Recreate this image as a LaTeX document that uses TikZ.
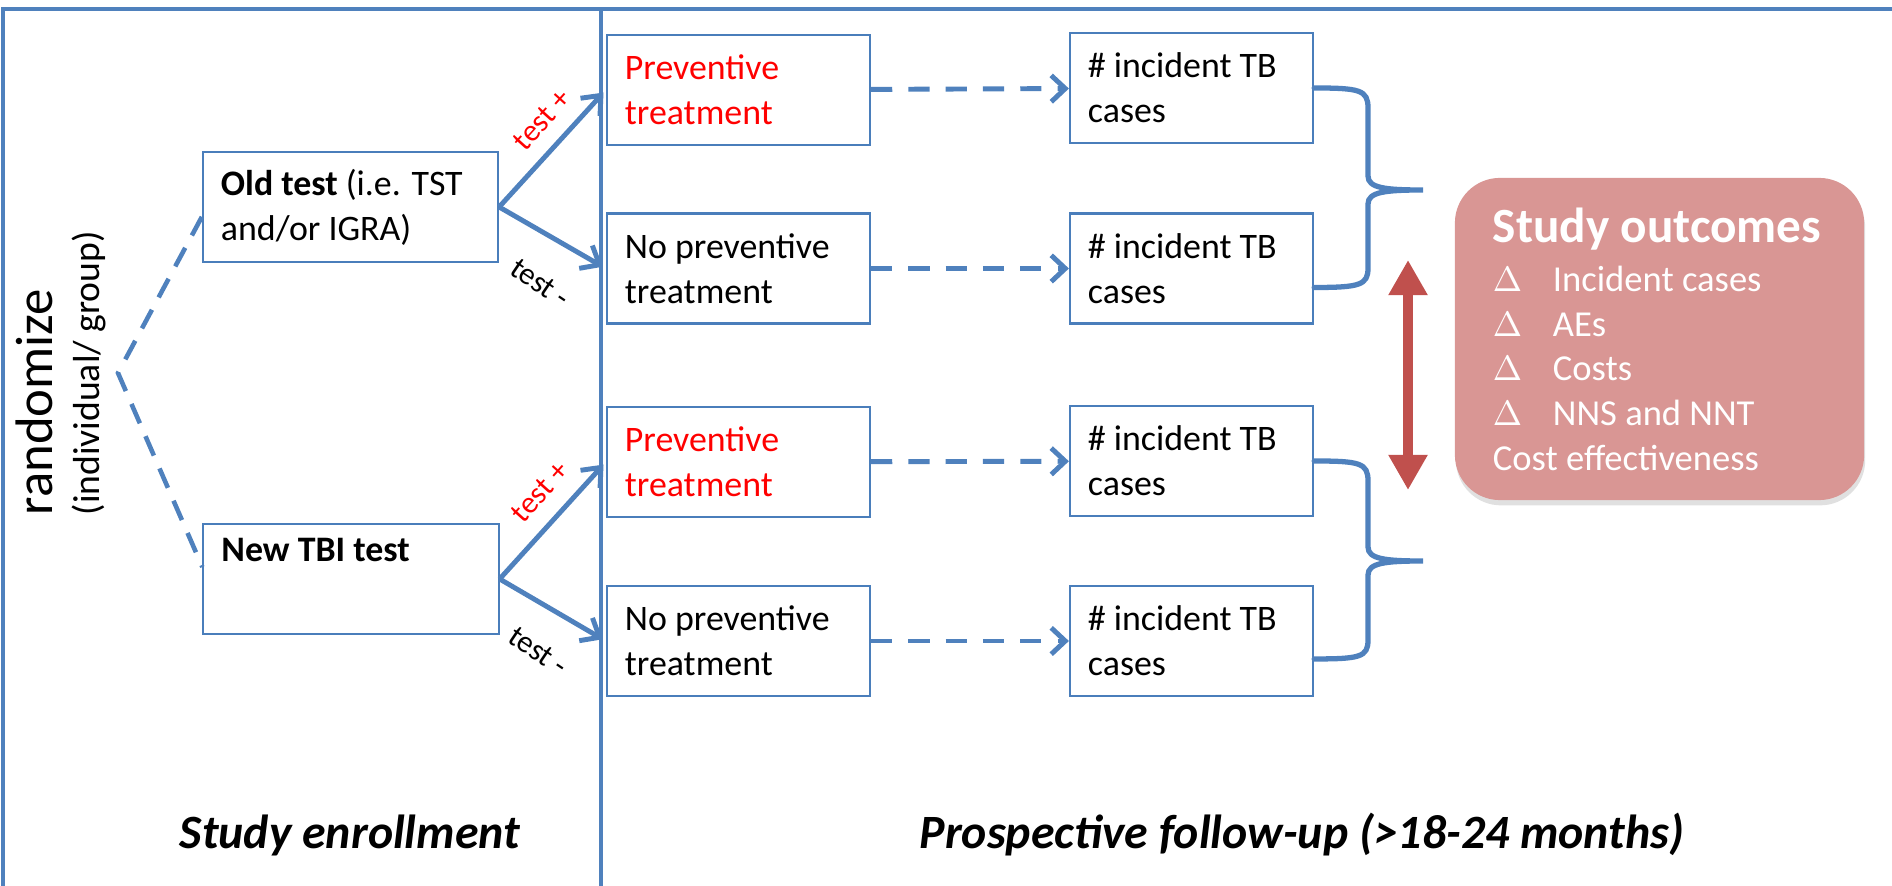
\documentclass[tikz,border=0pt]{standalone}
\usepackage{fontspec}
\setmainfont{Carlito}
\usetikzlibrary{arrows.meta,shadows}

\definecolor{lineblue}{HTML}{4F81BD}
\definecolor{boxblue}{HTML}{4A7EBB}
\definecolor{outred}{HTML}{C0504D}
\definecolor{outfill}{HTML}{D99694}

\newcommand{\dl}{\makebox[0.6cm][l]{$\Delta$}}

\tikzset{
  stagebox/.style={draw=boxblue, line width=0.6pt, fill=white, inner xsep=0.18cm, inner ysep=0pt,
    align=flush left, minimum height=1.1cm, font=\fontsize{10.2}{12.8}\selectfont},
  testbox/.style={stagebox, text width=2.59cm},
  treatbox/.style={stagebox, text width=2.27cm},
  casebox/.style={stagebox, text width=2.07cm},
  outbox/.style={fill=outfill, text=white, rounded corners=0.45cm, inner xsep=0.38cm, inner ysep=0pt,
    text width=3.33cm, minimum height=3.22cm, align=flush left, font=\fontsize{10.4}{12.7}\selectfont,
    drop shadow={shadow xshift=0.3pt, shadow yshift=-1.5pt, opacity=0.2, fill=black!60}},
  testarrow/.style={draw=lineblue, line width=1.4pt, shorten >=1pt, -{Straight Barb[length=4.5pt,width=7.5pt]}},
  followarrow/.style={draw=lineblue, line width=1.4pt, dash pattern=on 6pt off 4.6pt, -{Straight Barb[length=4pt,width=7.5pt]}},
  randline/.style={draw=lineblue, line width=1.3pt, dash pattern=on 6pt off 4pt},
  outbrace/.style={draw=lineblue, line width=1.5pt, line cap=round},
  gaparrow/.style={draw=outred, line width=3.1pt, {Triangle[length=10pt,width=10.5pt]}-{Triangle[length=10pt,width=10.5pt]}},
  testlbl/.style={font=\fontsize{8.8}{10}\selectfont, inner sep=0pt},
  phaselbl/.style={font=\fontsize{13.6}{16}\selectfont\bfseries\itshape}
}

\begin{document}
\begin{tikzpicture}[x=0.01cm, y=-0.01cm]
    \useasboundingbox (0,0) rectangle (1892,886);
    \clip (0,0) rectangle (1892,886);

    % Frame and phase divider
    \draw[lineblue, line width=0.9pt] (3,9) rectangle (1900,900);
    \draw[lineblue, line width=1pt] (601,9) -- (601,900);

    % Randomization
    \node[rotate=90, anchor=base west, inner sep=0pt, font=\fontsize{15}{17}\selectfont] (rand) at (52,516) {randomize};
    \node[rotate=90, anchor=base west, inner sep=0pt, font=\fontsize{10.7}{12}\selectfont] (randsub) at (99,516) {(individual/ group)};
    \coordinate (apex) at (118,373);

    % Test arms
    \node[testbox] (old) at (350.5,207) {\textbf{Old test} (i.e. TST\\ and/or IGRA)};
    \node[testbox] (new) at (351,579) {\textbf{New TBI test}\\ \strut};

    % Treatment decisions
    \node[treatbox, text=red] (prev1) at (738.5,90) {Preventive\\ treatment};
    \node[treatbox] (noprev1) at (738.5,268.5) {No preventive\\ treatment};
    \node[treatbox, text=red] (prev2) at (738.5,462) {Preventive\\ treatment};
    \node[treatbox] (noprev2) at (738.5,641) {No preventive\\ treatment};

    % Incident cases
    \node[casebox] (inc1) at (1191.5,88) {\# incident TB\\ cases};
    \node[casebox] (inc2) at (1191.5,268.5) {\# incident TB\\ cases};
    \node[casebox] (inc3) at (1191.5,461) {\# incident TB\\ cases};
    \node[casebox] (inc4) at (1191.5,641) {\# incident TB\\ cases};

    % Study outcomes
    \node[outbox] (outcomes) at (1659.5,339) {{\fontsize{14}{17}\selectfont\textbf{Study outcomes}}\\[1.3pt]
      \dl Incident cases\\ \dl AEs\\ \dl Costs\\ \dl NNS and NNT\\ Cost effectiveness};

    % Randomization lines
    \draw[randline] ([yshift=-2.8pt]old.west) -- (apex) -- ([yshift=3.4pt]new.west);

    % Test results
    \draw[testarrow] (old.east) -- (prev1.west);
    \draw[testarrow] (old.east) -- (noprev1.west);
    \draw[testarrow] (new.east) -- (prev2.west);
    \draw[testarrow] (new.east) -- (noprev2.west);
    \node[testlbl, text=red, rotate=48] (oldpos) at (542,120) {test +};
    \node[testlbl, rotate=-34] (oldneg) at (540,283) {test -};
    \node[testlbl, text=red, rotate=48] (newpos) at (540,492) {test +};
    \node[testlbl, rotate=-34] (newneg) at (538,651) {test -};

    % Follow-up
    \draw[followarrow] (prev1) -- (inc1);
    \draw[followarrow] (noprev1) -- (inc2);
    \draw[followarrow] (prev2) -- (inc3);
    \draw[followarrow] (noprev2) -- (inc4);

    % Braces
    \coordinate (tip1) at (1423,190);
    \coordinate (tip2) at (1423,561);
    \draw[outbrace] (inc1.east) .. controls (1360,88) and (1368,90) .. (1368,108) -- (1368,176)
      .. controls (1368,188) and (1385,190) .. (tip1)
      .. controls (1385,190) and (1368,192) .. (1368,204) -- (1368,268)
      .. controls (1368,285) and (1360,287.5) .. ([yshift=-5.4pt]inc2.east);
    \draw[outbrace] (inc3.east) .. controls (1360,461) and (1368,463) .. (1368,481) -- (1368,547)
      .. controls (1368,559) and (1385,561) .. (tip2)
      .. controls (1385,561) and (1368,563) .. (1368,575) -- (1368,640)
      .. controls (1368,657) and (1360,659) .. ([yshift=-5.1pt]inc4.east);

    % Comparison
    \coordinate (gaptop) at (1408,260);
    \coordinate (gapbot) at (1408,490);
    \draw[gaparrow] (gaptop) -- (gapbot);

    % Phases
    \node[phaselbl] (enroll) at (350,835) {Study enrollment};
    \node[phaselbl] (follow) at (1302,835) {Prospective follow-up (>18-24 months)};
\end{tikzpicture}
\end{document}
